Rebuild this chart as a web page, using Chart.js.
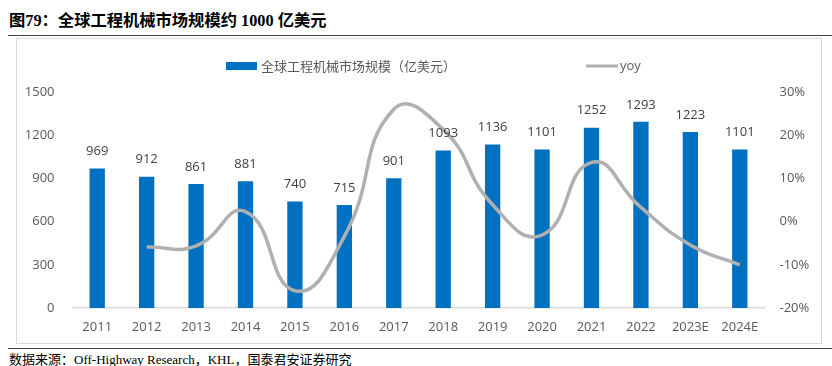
<!DOCTYPE html>
<html><head><meta charset="utf-8">
<script src="https://cdn.jsdelivr.net/npm/chart.js@4.4.1/dist/chart.umd.min.js"></script>
<style>
html,body{margin:0;padding:0;background:#fff;width:832px;height:366px;overflow:hidden;position:relative;}
#title{position:absolute;left:9px;top:7px;font:bold 16.3px "Liberation Serif","Noto Sans CJK SC",serif;color:#000;white-space:nowrap;}
#rule1{position:absolute;left:8px;top:35px;width:824px;height:0;border-top:1.5px solid #444;}
#frame{position:absolute;left:16px;top:38px;width:804px;height:304px;border:1px solid #D9D9D9;}
#wrap{position:absolute;left:17px;top:39px;width:803px;height:302px;}
#rule2{position:absolute;left:8px;top:348px;width:824px;height:0;border-top:1.5px solid #444;}
#src{position:absolute;left:9px;top:349px;font:13px "Liberation Serif","Noto Sans CJK SC",serif;color:#000;white-space:nowrap;}
</style></head>
<body>
<div id="title">图79：全球工程机械市场规模约 1000 亿美元</div>
<div id="rule1"></div>
<div id="frame"></div>
<div id="wrap"><canvas id="c" width="803" height="302"></canvas></div>
<div id="rule2"></div>
<div id="src">数据来源：Off-Highway Research，KHL，国泰君安证券研究</div>
<script>
const categories = ['2011','2012','2013','2014','2015','2016','2017','2018','2019','2020','2021','2022','2023E','2024E'];
const marketSize = [969,912,861,881,740,715,901,1093,1136,1101,1252,1293,1223,1101];
const yoy = [null,-5.9,-5.6,2.3,-16.0,-3.4,26.0,21.3,3.9,-3.1,13.7,3.3,-5.4,-10.0];
const leftTicks = [0,300,600,900,1200,1500];
const rightTicks = [-20,-10,0,10,20,30];
const seriesNames = ['全球工程机械市场规模（亿美元）','yoy'];

const BLUE = '#0070C0', GRAY = '#B0B0B0';
const tickFont = {family:'"Open Sans","Noto Sans CJK SC",sans-serif', size:13};

const labelPlugin = {
  id:'barLabels',
  afterDatasetsDraw(chart){
    const ctx = chart.ctx;
    const meta = chart.getDatasetMeta(1);
    ctx.save();
    ctx.fillStyle = '#404040';
    ctx.font = '13px "Open Sans","Noto Sans CJK SC",sans-serif';
    ctx.textAlign = 'center';
    ctx.textBaseline = 'middle';
    meta.data.forEach((el,i)=>{
      ctx.fillText(String(marketSize[i]), el.x, el.y - 17);
    });
    ctx.restore();
  }
};
const legendPlugin = {
  id:'customLegend',
  afterDraw(chart){
    const ctx = chart.ctx;
    ctx.save();
    const y = 27;
    ctx.fillStyle = BLUE;
    ctx.fillRect(209, y-4, 31, 8);
    ctx.fillStyle = '#595959';
    ctx.font = '13px "Noto Sans CJK SC",sans-serif';
    ctx.textBaseline = 'middle';
    ctx.textAlign = 'left';
    ctx.fillText(seriesNames[0], 244, y);
    ctx.strokeStyle = GRAY;
    ctx.lineWidth = 3;
    ctx.beginPath(); ctx.moveTo(569, y); ctx.lineTo(601, y); ctx.stroke();
    ctx.font = '13px "Open Sans",sans-serif';
    ctx.fillText(seriesNames[1], 603, y);
    ctx.restore();
  }
};

new Chart(document.getElementById('c'), {
  data:{
    labels: categories,
    datasets:[
      {type:'line', label:seriesNames[1], data:yoy, yAxisID:'y1', borderColor:GRAY, borderWidth:3.5,
       pointRadius:0, tension:0.5, fill:false, order:0},
      {type:'bar', label:seriesNames[0], data:marketSize, yAxisID:'y', backgroundColor:BLUE,
       barPercentage:0.31, categoryPercentage:1, order:1}
    ]
  },
  options:{
    responsive:false, animation:false,
    layout:{padding:{top:53,left:0,right:0,bottom:0}},
    plugins:{legend:{display:false}, tooltip:{enabled:false}},
    scales:{
      x:{
        grid:{display:true, drawOnChartArea:false, drawTicks:false},
        border:{display:true, color:'#D9D9D9', width:1.5},
        ticks:{color:'#595959', font:tickFont, padding:11, maxRotation:0, autoSkip:false},
        afterFit(s){ s.height = 33; }
      },
      y:{
        position:'left', min:0, max:1500,
        afterBuildTicks(s){ s.ticks = leftTicks.map(v=>({value:v})); },
        grid:{display:false}, border:{display:false},
        ticks:{color:'#595959', font:tickFont, padding:10, callback:v=>String(v)},
        afterFit(s){ s.width = 55.5; }
      },
      y1:{
        position:'right', min:-20, max:30,
        afterBuildTicks(s){ s.ticks = rightTicks.map(v=>({value:v})); },
        grid:{display:false}, border:{display:false},
        ticks:{color:'#595959', font:tickFont, padding:7, callback:v=>v+'%'},
        afterFit(s){ s.width = 55.5; }
      }
    }
  },
  plugins:[labelPlugin, legendPlugin]
});
</script>
</body></html>
